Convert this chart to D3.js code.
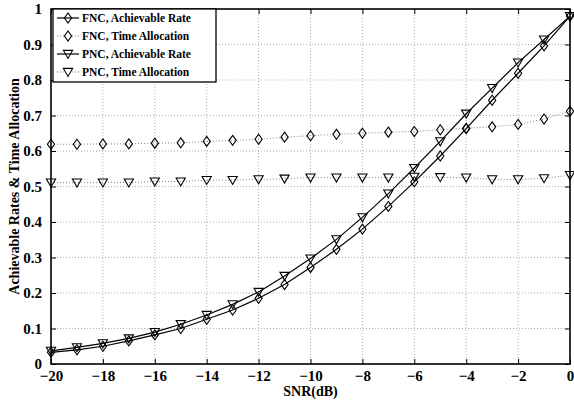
<!DOCTYPE html>
<html>
<head>
<meta charset="utf-8">
<script src="https://cdn.jsdelivr.net/npm/d3@7"></script>
<style>
  body { margin: 0; background: #fff; }
  svg text { font-family: "Liberation Serif", "Times New Roman", serif; font-weight: bold; fill: #000; }
</style>
</head>
<body>
<div id="chart"></div>
<script>
// data
var snr = [-20,-19,-18,-17,-16,-15,-14,-13,-12,-11,-10,-9,-8,-7,-6,-5,-4,-3,-2,-1,0];
var fncRate = [0.033,0.040,0.050,0.065,0.082,0.100,0.126,0.152,0.185,0.224,0.272,0.323,0.380,0.444,0.513,0.586,0.663,0.743,0.819,0.896,0.980];
var fncTime = [0.619,0.619,0.620,0.620,0.622,0.623,0.627,0.630,0.633,0.639,0.643,0.647,0.650,0.653,0.655,0.660,0.664,0.668,0.675,0.690,0.712];
var pncRate = [0.037,0.047,0.058,0.072,0.090,0.112,0.138,0.168,0.203,0.248,0.297,0.351,0.413,0.480,0.552,0.627,0.705,0.777,0.849,0.914,0.980];
var pncTime = [0.511,0.511,0.511,0.511,0.514,0.514,0.518,0.518,0.520,0.522,0.525,0.525,0.525,0.525,0.527,0.526,0.525,0.520,0.520,0.523,0.532];
var xTicks = [-20,-18,-16,-14,-12,-10,-8,-6,-4,-2,0];
var yTicks = [0,0.1,0.2,0.3,0.4,0.5,0.6,0.7,0.8,0.9,1];
var legendNames = ["FNC, Achievable Rate","FNC, Time Allocation","PNC, Achievable Rate","PNC, Time Allocation"];

var W = 574, H = 403;
var margin = {top: 9, right: 4, bottom: 39, left: 51},
    width = W - margin.left - margin.right,
    height = H - margin.top - margin.bottom;

var svg = d3.select("#chart").append("svg")
    .attr("width", W).attr("height", H);
var g = svg.append("g")
    .attr("transform", "translate(" + margin.left + "," + margin.top + ")");

var x = d3.scaleLinear().domain([-20, 0]).range([0, width]);
var y = d3.scaleLinear().domain([0, 1]).range([height, 0]);

// grid
g.selectAll(".gx").data(xTicks.slice(1, -1)).enter().append("line")
    .attr("x1", function(d) { return x(d); }).attr("x2", function(d) { return x(d); })
    .attr("y1", 0).attr("y2", height)
    .attr("stroke", "#999").attr("stroke-width", 0.8).attr("stroke-dasharray", "1,2");
g.selectAll(".gy").data(yTicks.slice(1, -1)).enter().append("line")
    .attr("y1", function(d) { return y(d); }).attr("y2", function(d) { return y(d); })
    .attr("x1", 0).attr("x2", width)
    .attr("stroke", "#999").attr("stroke-width", 0.8).attr("stroke-dasharray", "1,2");

// axes (inward ticks, matlab box style)
var minus = function(d) { return d < 0 ? "\u2212" + Math.abs(d) : String(d); };
var xAxis = g.append("g")
    .attr("transform", "translate(0," + height + ")")
    .call(d3.axisBottom(x).tickValues(xTicks).tickSizeInner(-5).tickSizeOuter(0).tickPadding(9).tickFormat(minus));
var yAxis = g.append("g")
    .call(d3.axisLeft(y).tickValues(yTicks).tickSizeInner(-5).tickSizeOuter(0).tickPadding(9).tickFormat(d3.format("~g")));
g.append("g")
    .call(d3.axisTop(x).tickValues(xTicks).tickSizeInner(-5).tickSizeOuter(0).tickFormat(""));
g.append("g")
    .attr("transform", "translate(" + width + ",0)")
    .call(d3.axisRight(y).tickValues(yTicks).tickSizeInner(-5).tickSizeOuter(0).tickFormat(""));
g.selectAll(".domain").attr("stroke", "none");
g.selectAll(".tick line").attr("stroke", "#000").attr("stroke-width", 1);
xAxis.selectAll("text").style("font-size", "15px").attr("dy", "0.55em");
yAxis.selectAll("text").style("font-size", "15px");

g.append("rect")
    .attr("width", width).attr("height", height)
    .attr("fill", "none").attr("stroke", "#000").attr("stroke-width", 1.6);

// series
var series = [
  {vals: fncRate, shape: "diamond", solid: true},
  {vals: fncTime, shape: "diamond", solid: false},
  {vals: pncRate, shape: "triangle", solid: true},
  {vals: pncTime, shape: "triangle", solid: false}
];

var markerPath = function(shape) {
  if (shape == "diamond") return "M0,-5L3.6,0L0,5L-3.6,0Z";
  return "M-4.6,-3.6L4.6,-3.6L0,4.4Z";
};

var line = d3.line()
    .x(function(d, i) { return x(snr[i]); })
    .y(function(d) { return y(d); });

series.forEach(function(s) {
  g.append("path")
      .datum(s.vals)
      .attr("d", line)
      .attr("fill", "none")
      .attr("stroke", s.solid ? "#000" : "#666")
      .attr("stroke-width", s.solid ? 1.2 : 0.8)
      .attr("stroke-dasharray", s.solid ? null : "1,2");
  g.selectAll(null).data(s.vals).enter().append("path")
      .attr("transform", function(d, i) { return "translate(" + x(snr[i]) + "," + y(d) + ")"; })
      .attr("d", markerPath(s.shape))
      .attr("fill", "none").attr("stroke", "#000").attr("stroke-width", 1.1);
});

// legend
var leg = g.append("g").attr("transform", "translate(2,0)");
leg.append("rect")
    .attr("width", 163).attr("height", 73)
    .attr("fill", "#fff").attr("stroke", "#000").attr("stroke-width", 1.3);
legendNames.forEach(function(name, i) {
  var s = series[i], yy = 9 + i * 18;
  leg.append("line")
      .attr("x1", 4).attr("x2", 26).attr("y1", yy).attr("y2", yy)
      .attr("stroke", s.solid ? "#000" : "#666")
      .attr("stroke-width", s.solid ? 1.2 : 0.8)
      .attr("stroke-dasharray", s.solid ? null : "1,2");
  leg.append("path")
      .attr("transform", "translate(15," + yy + ")")
      .attr("d", markerPath(s.shape))
      .attr("fill", s.solid ? "none" : "#fff").attr("stroke", "#000").attr("stroke-width", 1.1);
  leg.append("text")
      .attr("x", 29).attr("y", yy).attr("dy", "0.35em")
      .style("font-size", "11.5px")
      .text(name);
});

// axis titles
svg.append("text")
    .attr("x", margin.left + width / 2).attr("y", 396)
    .attr("text-anchor", "middle")
    .style("font-size", "14px")
    .text("SNR(dB)");
svg.append("text")
    .attr("transform", "translate(19," + (margin.top + height / 2) + ") rotate(-90)")
    .attr("text-anchor", "middle")
    .style("font-size", "14px")
    .text("Achievable Rates & Time Allocation");
</script>
</body>
</html>
